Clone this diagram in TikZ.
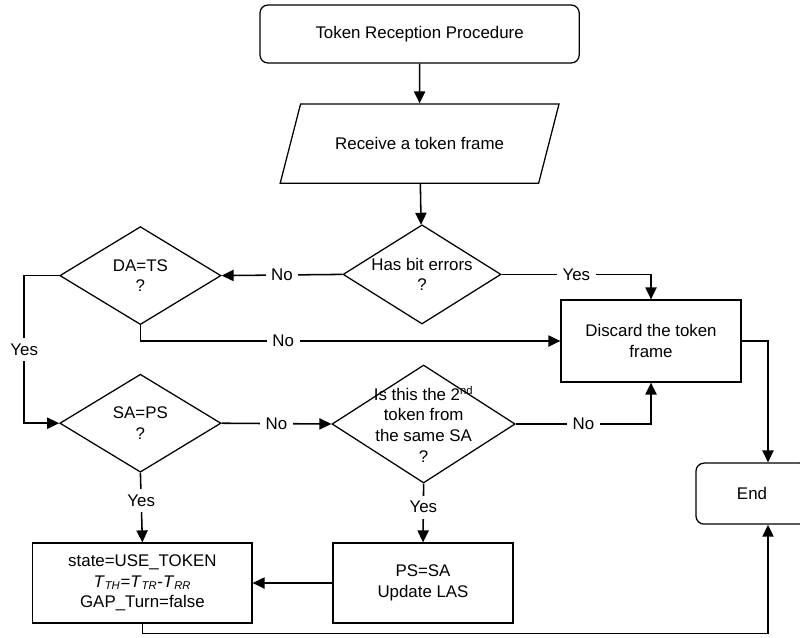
\documentclass[tikz,border=0pt]{standalone}
\usepackage{fontspec}
\setmainfont{Liberation Sans}
\usetikzlibrary{shapes.geometric, arrows.meta, positioning}
\newcommand{\Tsub}[1]{\textit{T}\textsubscript{\textit{#1}}}

\begin{document}
\begin{tikzpicture}[font=\fontsize{12}{14.7}\selectfont,
    procbox/.style={draw, line width=0.9pt, rectangle, align=center},
    termbox/.style={procbox, rounded corners=0.2cm},
    decision/.style={draw, line width=0.9pt, diamond, aspect=1.6, inner sep=0pt, align=center},
    flow/.style={line width=1.1pt, -{Triangle[length=3mm, width=2.8mm]}},
    plain/.style={line width=1.1pt},
    lbl/.style={fill=white, inner sep=4pt}]
  \useasboundingbox (0,0) rectangle (20,-15.925);
  % start and input
  \node[termbox, minimum width=7.98cm, minimum height=1.45cm] (start) at (10.49,-0.85)
    {Token Reception Procedure};
  \node[draw, line width=0.9pt, trapezium, trapezium left angle=55, trapezium right angle=125,
        trapezium stretches=true, minimum width=6.98cm, minimum height=1.98cm] (recv) at (10.49,-3.59)
    {Receive a token frame};
  % checks
  \node[decision, minimum width=3.95cm, minimum height=2.48cm] (err) at (10.55,-6.86)
    {Has bit errors\\?};
  \node[decision, minimum width=4.03cm, minimum height=2.45cm] (da) at (3.51,-6.89)
    {DA=TS\\?};
  \node[decision, minimum width=4.03cm, minimum height=2.45cm] (sa) at (3.51,-10.58)
    {SA=PS\\?};
  \node[decision, inner ysep=-12pt, minimum width=4.58cm, minimum height=2.95cm] (second) at (10.59,-10.6)
    {Is this the 2\textsuperscript{nd}\\token from\\the same SA\\?};
  % actions
  \node[procbox, minimum width=4.5cm, minimum height=2.05cm] (disc) at (16.275,-8.525)
    {Discard the token\\frame};
  \node[procbox, minimum width=4.5cm, minimum height=2cm] (ps) at (10.575,-14.575)
    {PS=SA\\Update LAS};
  \node[procbox, minimum width=5.48cm, minimum height=2cm] (state) at (3.56,-14.575)
    {state=USE\_TOKEN\\\Tsub{TH}=\Tsub{TR}-\Tsub{RR}\\GAP\_Turn=false};
  \node[termbox, minimum width=2.8cm, minimum height=1.525cm] (end) at (18.8,-12.34) {End};

  % connectors
  \draw[flow] (start) -- (recv);
  \draw[flow] (recv) -- (err);
  \draw[flow] (err.east) -| node[lbl, pos=0.25] {Yes} (disc.north);
  \draw[flow] (err.west) -- node[lbl] {No} (da.east);
  \draw[flow] (da.south) |- node[lbl, pos=0.67] {No} (disc.west);
  \draw[flow] (da.west) -- ++(-0.875,0) |- node[lbl, pos=0.25] {Yes} (sa.west);
  \draw[flow] (sa.east) -- node[lbl] {No} (second.west);
  \draw[flow] (second.east) -| node[lbl, pos=0.25] {No} (disc.south);
  \draw[flow] (second.south) -- node[lbl, pos=0.4] {Yes} (ps.north);
  \draw[flow] (sa.south) -- node[lbl, pos=0.4] {Yes} (state.north);
  \draw[flow] (ps.west) -- (state.east);
  \draw[flow] (disc.east) -| ([xshift=0.4cm]end.north);
  \draw[flow] (state.south) -- ++(0,-0.25) -| ([xshift=0.4cm]end.south);
\end{tikzpicture}
\end{document}
